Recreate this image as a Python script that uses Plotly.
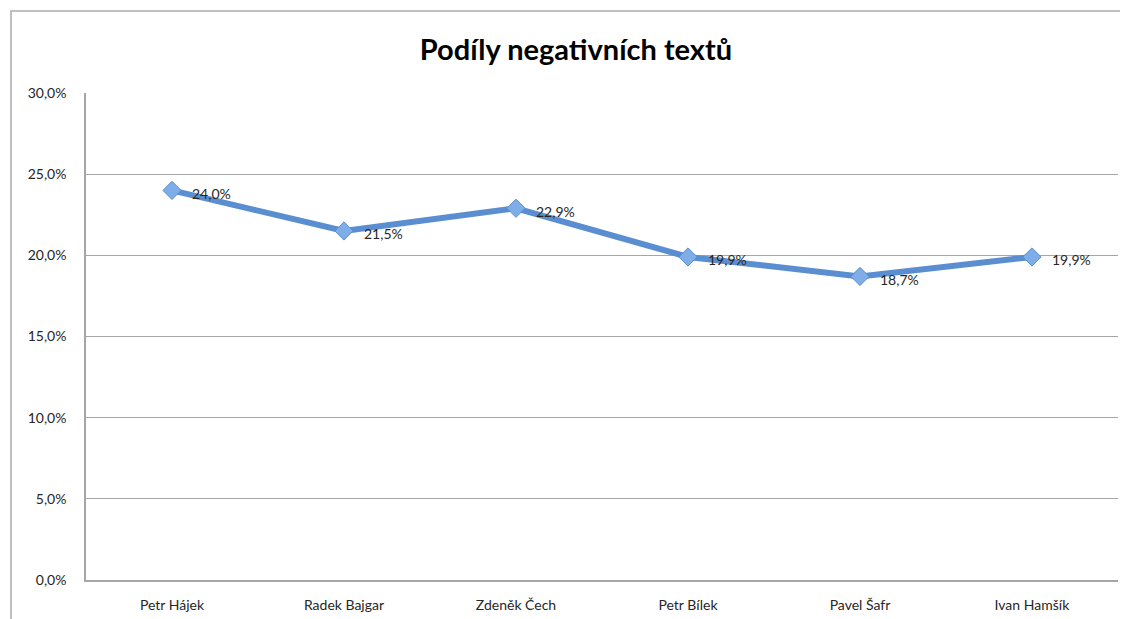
import plotly.graph_objects as go

categories = ["Petr Hájek", "Radek Bajgar", "Zdeněk Čech", "Petr Bílek", "Pavel Šafr", "Ivan Hamšík"]
values = [0.240, 0.215, 0.229, 0.199, 0.187, 0.199]
tick_vals = [0, 0.05, 0.10, 0.15, 0.20, 0.25, 0.30]
tick_text = ["0,0%", "5,0%", "10,0%", "15,0%", "20,0%", "25,0%", "30,0%"]
labels = [f"{v*100:.1f}%".replace(".", ",") for v in values]

# page body has an 8px margin, so the figure starts at (8, 8)
OFF = 8
W, H = 1128 - OFF, 619 - OFF
L, R, T, B = 86 - OFF, 10, 93 - OFF, 39
pw, ph = W - L - R, H - T - B
FONT = "Lato, Noto Sans, sans-serif"

fig = go.Figure()
fig.add_trace(go.Scatter(
    x=list(range(len(categories))), y=values,
    mode="lines+markers",
    line=dict(color="#5A8ED0", width=6),
    marker=dict(symbol="diamond", size=14, color="#7FADE8", line=dict(color="#5A8ED0", width=1)),
    cliponaxis=False, showlegend=False, hoverinfo="skip",
))

annotations = [dict(x=i, y=v, text=t, xref="x", yref="y", showarrow=False,
                    xanchor="left", yanchor="middle", xshift=18, yshift=-3,
                    font=dict(family=FONT, size=14, color="#262626"))
               for i, (v, t) in enumerate(zip(values, labels))]

fig.update_layout(
    width=W, height=H,
    margin=dict(l=L, r=R, t=T, b=B, autoexpand=False),
    paper_bgcolor="white", plot_bgcolor="white",
    title=dict(text="<b>Podíly negativních textů</b>", x=(576 - OFF) / W, xref="container", xanchor="center",
               y=1 - (50 - OFF) / H, yanchor="middle",
               font=dict(family=FONT, size=29, color="#000000")),
    xaxis=dict(range=[-0.5, 5.5], tickvals=list(range(len(categories))), ticktext=categories,
               showgrid=False, showline=True, linecolor="#a6a6a6", linewidth=1.5,
               ticks="", zeroline=False, ticklabelstandoff=11, automargin=False,
               tickfont=dict(family=FONT, size=14, color="#262626")),
    yaxis=dict(range=[0, 0.30], tickvals=tick_vals, ticktext=tick_text,
               showgrid=True, gridcolor="#a6a6a6", gridwidth=1,
               showline=True, linecolor="#a6a6a6", linewidth=1.5, zeroline=False,
               ticks="", ticklabelstandoff=15, automargin=False,
               tickfont=dict(family=FONT, size=14, color="#262626")),
    annotations=annotations,
    shapes=[dict(type="rect", xref="paper", yref="paper",
                 x0=(11 - 86) / pw, x1=(1135 - 86) / pw,
                 y0=(580 - 625) / ph, y1=(580 - 11) / ph,
                 line=dict(color="#bfbfbf", width=2), fillcolor="rgba(0,0,0,0)", layer="below")],
)

fig.write_html("out.html")
